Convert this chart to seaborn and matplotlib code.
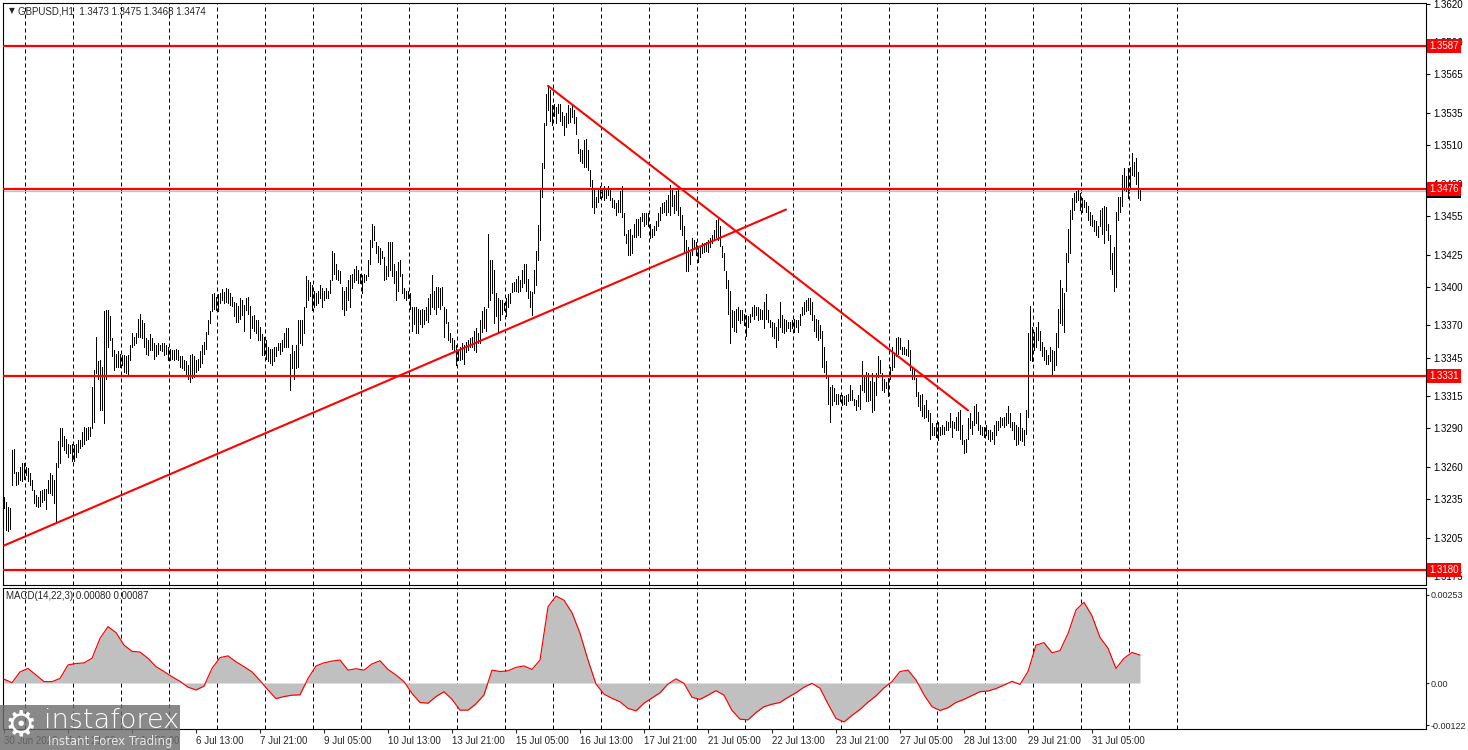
import numpy as np
import pandas as pd
import seaborn as sns
import matplotlib.pyplot as plt
from matplotlib import transforms
from matplotlib.patches import Rectangle


# GBPUSD H1 bars (one value per hourly bar)
bar_high = [
    1.3237, 1.3233, 1.3229, 1.3228, 1.3273, 1.3274, 1.3256, 1.3256, 1.3260, 1.3263,
    1.3263, 1.3260, 1.3259, 1.3255, 1.3250, 1.3242, 1.3238, 1.3237, 1.3241, 1.3242,
    1.3243, 1.3243, 1.3250, 1.3255, 1.3254, 1.3250, 1.3263, 1.3280, 1.3290, 1.3290,
    1.3284, 1.3282, 1.3278, 1.3277, 1.3278, 1.3277, 1.3278, 1.3281, 1.3281, 1.3287,
    1.3291, 1.3290, 1.3291, 1.3291, 1.3322, 1.3335, 1.3361, 1.3342, 1.3343, 1.3338,
    1.3381, 1.3382, 1.3382, 1.3377, 1.3360, 1.3351, 1.3348, 1.3350, 1.3348, 1.3347,
    1.3347, 1.3346, 1.3347, 1.3355, 1.3364, 1.3361, 1.3364, 1.3375, 1.3379, 1.3374,
    1.3372, 1.3360, 1.3359, 1.3363, 1.3360, 1.3356, 1.3355, 1.3356, 1.3355, 1.3356,
    1.3356, 1.3355, 1.3353, 1.3352, 1.3351, 1.3351, 1.3352, 1.3351, 1.3346, 1.3346,
    1.3343, 1.3342, 1.3339, 1.3347, 1.3348, 1.3346, 1.3343, 1.3344, 1.3350, 1.3355,
    1.3357, 1.3365, 1.3374, 1.3381, 1.3394, 1.3395, 1.3392, 1.3394, 1.3395, 1.3398,
    1.3396, 1.3399, 1.3398, 1.3395, 1.3392, 1.3388, 1.3387, 1.3385, 1.3391, 1.3390,
    1.3386, 1.3391, 1.3392, 1.3385, 1.3377, 1.3378, 1.3374, 1.3374, 1.3369, 1.3363,
    1.3361, 1.3359, 1.3353, 1.3352, 1.3352, 1.3353, 1.3353, 1.3356, 1.3356, 1.3359,
    1.3364, 1.3368, 1.3368, 1.3348, 1.3355, 1.3350, 1.3355, 1.3374, 1.3374,
    1.3374, 1.3384, 1.3408, 1.3405, 1.3404, 1.3401, 1.3397, 1.3395, 1.3397, 1.3401,
    1.3399, 1.3397, 1.3399, 1.3397, 1.3405, 1.3428, 1.3426, 1.3418, 1.3413, 1.3412,
    1.3400, 1.3397, 1.3400, 1.3405, 1.3409, 1.3410, 1.3414, 1.3416, 1.3413, 1.3410,
    1.3409, 1.3410, 1.3409, 1.3421, 1.3436, 1.3449, 1.3447, 1.3435, 1.3432, 1.3430,
    1.3428, 1.3423, 1.3416, 1.3435, 1.3435, 1.3435, 1.3418, 1.3412, 1.3419, 1.3421,
    1.3410, 1.3399, 1.3397, 1.3397, 1.3395, 1.3384, 1.3384, 1.3384, 1.3383, 1.3382,
    1.3383, 1.3382, 1.3384, 1.3391, 1.3394, 1.3409, 1.3397, 1.3400, 1.3400, 1.3399,
    1.3400, 1.3384, 1.3383, 1.3373, 1.3364, 1.3360, 1.3359, 1.3355, 1.3351, 1.3353,
    1.3356, 1.3355, 1.3357, 1.3359, 1.3360, 1.3361, 1.3366, 1.3368, 1.3364, 1.3374,
    1.3381, 1.3384, 1.3383, 1.3441, 1.3421, 1.3421, 1.3413, 1.3395, 1.3391, 1.3390,
    1.3390, 1.3387, 1.3391, 1.3394, 1.3395, 1.3403, 1.3404, 1.3406, 1.3408, 1.3405,
    1.3413, 1.3418, 1.3418, 1.3406, 1.3397, 1.3396, 1.3413, 1.3428, 1.3448, 1.3475,
    1.3496, 1.3527, 1.3550, 1.3557, 1.3553, 1.3541, 1.3542, 1.3540, 1.3542, 1.3542,
    1.3536, 1.3533, 1.3535, 1.3541, 1.3539, 1.3541, 1.3537, 1.3532, 1.3515, 1.3507,
    1.3506, 1.3514, 1.3515, 1.3506, 1.3491,
    1.3483, 1.3475, 1.3470, 1.3475, 1.3478, 1.3475, 1.3478, 1.3476, 1.3478, 1.3476,
    1.3469, 1.3467, 1.3465, 1.3467, 1.3474, 1.3478, 1.3457, 1.3441, 1.3444, 1.3445,
    1.3440, 1.3449, 1.3453, 1.3453, 1.3454, 1.3457, 1.3457, 1.3457, 1.3457, 1.3449,
    1.3445, 1.3447, 1.3451, 1.3457, 1.3462, 1.3465, 1.3466, 1.3467, 1.3471, 1.3479,
    1.3475, 1.3471, 1.3474, 1.3478, 1.3462, 1.3456, 1.3447, 1.3436, 1.3431, 1.3427,
    1.3438, 1.3436, 1.3435, 1.3431, 1.3432, 1.3434, 1.3434, 1.3435, 1.3436, 1.3438,
    1.3440, 1.3444, 1.3452, 1.3454, 1.3447, 1.3432, 1.3426, 1.3412, 1.3405, 1.3397,
    1.3382, 1.3381, 1.3383, 1.3384, 1.3382, 1.3382, 1.3379, 1.3378, 1.3377, 1.3379,
    1.3384, 1.3386, 1.3384, 1.3384, 1.3383, 1.3382, 1.3388, 1.3394, 1.3382, 1.3374,
    1.3373, 1.3372, 1.3369, 1.3375, 1.3388, 1.3378, 1.3375, 1.3374, 1.3373, 1.3373,
    1.3374, 1.3375, 1.3374, 1.3374, 1.3379, 1.3384, 1.3388, 1.3390, 1.3391, 1.3391,
    1.3388, 1.3378, 1.3375, 1.3374, 1.3370, 1.3366, 1.3353, 1.3342, 1.3331, 1.3322,
    1.3324, 1.3321, 1.3317, 1.3317, 1.3316, 1.3316, 1.3315, 1.3316, 1.3317, 1.3324,
    1.3320, 1.3313, 1.3312, 1.3316, 1.3324, 1.3342, 1.3330, 1.3334, 1.3333, 1.3327,
    1.3333, 1.3326, 1.3333, 1.3346, 1.3343,
    1.3333, 1.3328, 1.3326, 1.3329, 1.3338, 1.3353, 1.3348, 1.3360, 1.3361, 1.3360,
    1.3353, 1.3353, 1.3352, 1.3359, 1.3351, 1.3338, 1.3335, 1.3329, 1.3318, 1.3316,
    1.3317, 1.3308, 1.3312, 1.3304, 1.3302, 1.3294, 1.3291, 1.3294, 1.3295, 1.3291,
    1.3293, 1.3291, 1.3296, 1.3295, 1.3302, 1.3296, 1.3295, 1.3299, 1.3303, 1.3304,
    1.3293, 1.3281, 1.3282, 1.3298, 1.3302, 1.3296, 1.3307, 1.3309, 1.3303, 1.3293,
    1.3291, 1.3291, 1.3293, 1.3289, 1.3289, 1.3287, 1.3293, 1.3296, 1.3296, 1.3299,
    1.3298, 1.3299, 1.3302, 1.3307, 1.3302, 1.3295, 1.3295, 1.3293, 1.3291, 1.3302,
    1.3290, 1.3289, 1.3304, 1.3364, 1.3385, 1.3369, 1.3365, 1.3369, 1.3373, 1.3366,
    1.3357, 1.3353, 1.3351, 1.3347, 1.3353, 1.3351, 1.3350, 1.3364, 1.3383, 1.3405,
    1.3399, 1.3395, 1.3426, 1.3445, 1.3460, 1.3469, 1.3473, 1.3474, 1.3475, 1.3473,
    1.3469, 1.3467, 1.3466, 1.3463, 1.3458, 1.3456, 1.3452, 1.3451, 1.3447, 1.3460,
    1.3461, 1.3463, 1.3462, 1.3449, 1.3440, 1.3426, 1.3431, 1.3458, 1.3470, 1.3470,
    1.3487, 1.3492, 1.3486, 1.3492, 1.3493, 1.3504, 1.3497, 1.3500, 1.3489, 1.3475,
]
bar_low = [
    1.3228, 1.3211, 1.3210, 1.3212, 1.3246, 1.3255, 1.3246, 1.3247, 1.3250, 1.3249,
    1.3251, 1.3254, 1.3249, 1.3246, 1.3242, 1.3232, 1.3230, 1.3229, 1.3230, 1.3233,
    1.3234, 1.3227, 1.3240, 1.3240, 1.3238, 1.3232, 1.3218, 1.3260, 1.3263, 1.3276,
    1.3273, 1.3271, 1.3268, 1.3271, 1.3265, 1.3265, 1.3268, 1.3272, 1.3275, 1.3276,
    1.3278, 1.3281, 1.3282, 1.3284, 1.3290, 1.3295, 1.3333, 1.3328, 1.3304, 1.3304,
    1.3294, 1.3328, 1.3353, 1.3359, 1.3346, 1.3335, 1.3338, 1.3338, 1.3338, 1.3339,
    1.3334, 1.3333, 1.3331, 1.3343, 1.3353, 1.3355, 1.3356, 1.3361, 1.3361, 1.3360,
    1.3353, 1.3348, 1.3347, 1.3351, 1.3351, 1.3344, 1.3346, 1.3348, 1.3351, 1.3350,
    1.3347, 1.3348, 1.3343, 1.3343, 1.3344, 1.3343, 1.3344, 1.3343, 1.3338, 1.3337,
    1.3335, 1.3331, 1.3328, 1.3326, 1.3329, 1.3330, 1.3334, 1.3335, 1.3338, 1.3341,
    1.3348, 1.3352, 1.3363, 1.3372, 1.3381, 1.3383, 1.3382, 1.3381, 1.3387, 1.3390,
    1.3387, 1.3388, 1.3387, 1.3386, 1.3385, 1.3377, 1.3373, 1.3373, 1.3375, 1.3378,
    1.3366, 1.3382, 1.3379, 1.3360, 1.3368, 1.3366, 1.3364, 1.3359, 1.3359, 1.3347,
    1.3347, 1.3344, 1.3342, 1.3341, 1.3339, 1.3342, 1.3346, 1.3351, 1.3348, 1.3350,
    1.3353, 1.3353, 1.3353, 1.3320, 1.3337, 1.3328, 1.3337, 1.3338, 1.3356,
    1.3355, 1.3364, 1.3384, 1.3390, 1.3393, 1.3382, 1.3384, 1.3386, 1.3387, 1.3391,
    1.3384, 1.3390, 1.3391, 1.3391, 1.3395, 1.3405, 1.3410, 1.3406, 1.3405, 1.3403,
    1.3383, 1.3378, 1.3382, 1.3390, 1.3384, 1.3399, 1.3404, 1.3405, 1.3403, 1.3403,
    1.3395, 1.3404, 1.3405, 1.3408, 1.3418, 1.3431, 1.3436, 1.3426, 1.3419, 1.3418,
    1.3422, 1.3405, 1.3406, 1.3408, 1.3413, 1.3408, 1.3403, 1.3390, 1.3397, 1.3408,
    1.3395, 1.3391, 1.3390, 1.3391, 1.3383, 1.3366, 1.3371, 1.3364, 1.3364, 1.3371,
    1.3369, 1.3371, 1.3374, 1.3373, 1.3379, 1.3384, 1.3383, 1.3379, 1.3384, 1.3383,
    1.3386, 1.3361, 1.3372, 1.3359, 1.3357, 1.3352, 1.3351, 1.3339, 1.3343, 1.3343,
    1.3344, 1.3340, 1.3349, 1.3351, 1.3353, 1.3353, 1.3351, 1.3349, 1.3356, 1.3356,
    1.3365, 1.3368, 1.3366, 1.3384, 1.3390, 1.3395, 1.3372, 1.3377, 1.3366, 1.3374,
    1.3379, 1.3382, 1.3377, 1.3384, 1.3387, 1.3396, 1.3397, 1.3397, 1.3396, 1.3397,
    1.3400, 1.3403, 1.3397, 1.3391, 1.3384, 1.3378, 1.3395, 1.3401, 1.3421, 1.3436,
    1.3470, 1.3492, 1.3526, 1.3537, 1.3529, 1.3526, 1.3533, 1.3527, 1.3535, 1.3529,
    1.3526, 1.3518, 1.3524, 1.3527, 1.3528, 1.3532, 1.3527, 1.3519, 1.3504, 1.3498,
    1.3496, 1.3493, 1.3493, 1.3491, 1.3478,
    1.3462, 1.3457, 1.3462, 1.3466, 1.3469, 1.3470, 1.3467, 1.3469, 1.3471, 1.3467,
    1.3462, 1.3461, 1.3456, 1.3458, 1.3458, 1.3454, 1.3440, 1.3434, 1.3425, 1.3425,
    1.3426, 1.3439, 1.3439, 1.3440, 1.3439, 1.3451, 1.3447, 1.3449, 1.3447, 1.3438,
    1.3439, 1.3440, 1.3444, 1.3447, 1.3452, 1.3457, 1.3458, 1.3456, 1.3458, 1.3456,
    1.3463, 1.3457, 1.3460, 1.3456, 1.3445, 1.3440, 1.3426, 1.3412, 1.3412, 1.3418,
    1.3425, 1.3430, 1.3425, 1.3419, 1.3423, 1.3426, 1.3427, 1.3428, 1.3427, 1.3431,
    1.3434, 1.3436, 1.3439, 1.3436, 1.3432, 1.3423, 1.3413, 1.3399, 1.3379, 1.3356,
    1.3369, 1.3366, 1.3365, 1.3374, 1.3372, 1.3374, 1.3370, 1.3362, 1.3369, 1.3373,
    1.3377, 1.3375, 1.3378, 1.3374, 1.3375, 1.3375, 1.3368, 1.3375, 1.3373, 1.3369,
    1.3362, 1.3360, 1.3353, 1.3359, 1.3369, 1.3365, 1.3364, 1.3366, 1.3368, 1.3366,
    1.3368, 1.3365, 1.3369, 1.3365, 1.3370, 1.3378, 1.3379, 1.3381, 1.3382, 1.3379,
    1.3374, 1.3366, 1.3361, 1.3359, 1.3360, 1.3338, 1.3334, 1.3329, 1.3309, 1.3295,
    1.3308, 1.3311, 1.3309, 1.3309, 1.3311, 1.3308, 1.3309, 1.3308, 1.3311, 1.3312,
    1.3312, 1.3308, 1.3304, 1.3307, 1.3305, 1.3320, 1.3318, 1.3311, 1.3311, 1.3312,
    1.3303, 1.3304, 1.3316, 1.3330, 1.3333,
    1.3320, 1.3318, 1.3321, 1.3315, 1.3328, 1.3335, 1.3338, 1.3346, 1.3348, 1.3352,
    1.3348, 1.3348, 1.3347, 1.3346, 1.3335, 1.3328, 1.3328, 1.3315, 1.3307, 1.3304,
    1.3300, 1.3298, 1.3299, 1.3296, 1.3282, 1.3285, 1.3285, 1.3283, 1.3281, 1.3285,
    1.3286, 1.3286, 1.3289, 1.3289, 1.3291, 1.3283, 1.3290, 1.3289, 1.3289, 1.3282,
    1.3278, 1.3271, 1.3272, 1.3282, 1.3290, 1.3286, 1.3293, 1.3294, 1.3289, 1.3286,
    1.3285, 1.3283, 1.3285, 1.3282, 1.3280, 1.3282, 1.3278, 1.3285, 1.3289, 1.3291,
    1.3293, 1.3291, 1.3293, 1.3294, 1.3291, 1.3289, 1.3282, 1.3277, 1.3278, 1.3281,
    1.3280, 1.3277, 1.3286, 1.3299, 1.3343, 1.3342, 1.3351, 1.3353, 1.3359, 1.3351,
    1.3346, 1.3343, 1.3340, 1.3340, 1.3342, 1.3331, 1.3335, 1.3339, 1.3353, 1.3372,
    1.3370, 1.3365, 1.3397, 1.3419, 1.3426, 1.3453, 1.3460, 1.3466, 1.3467, 1.3460,
    1.3458, 1.3462, 1.3458, 1.3452, 1.3448, 1.3447, 1.3443, 1.3440, 1.3439, 1.3447,
    1.3441, 1.3434, 1.3444, 1.3436, 1.3414, 1.3410, 1.3397, 1.3400, 1.3452, 1.3458,
    1.3463, 1.3475, 1.3474, 1.3469, 1.3476, 1.3487, 1.3486, 1.3480, 1.3469, 1.3467,
]

# MACD(14,22,3) main value, one reading every 4th bar
macd_main = [
    0.00011, 0.00001, 0.00032, 0.00042, 0.00023, 0.00004, 0.00004, 0.00013, 0.00052, 0.00056,
    0.00058, 0.00071, 0.00128, 0.00162, 0.00145, 0.00109, 0.00091, 0.00089, 0.00071, 0.00047,
    0.00033, 0.00018, 0.00005, -0.00012, -0.00020, -0.00009, 0.00042, 0.00073, 0.00078, 0.00061,
    0.00047, 0.00032, 0.00007, -0.00020, -0.00045, -0.00039, -0.00035, -0.00034, 0.00013, 0.00049,
    0.00058, 0.00063, 0.00066, 0.00037, 0.00041, 0.00037, 0.00055, 0.00064, 0.00039, 0.00023,
    0.00004, -0.00030, -0.00056, -0.00058, -0.00039, -0.00025, -0.00047, -0.00078, -0.00078, -0.00060,
    -0.00034, 0.00037, 0.00033, 0.00035, 0.00045, 0.00049, 0.00039, 0.00066, 0.00219, 0.00250,
    0.00238, 0.00202, 0.00143, 0.00066, -0.00003,
    -0.00032, -0.00044, -0.00054, -0.00073, -0.00080, -0.00058, -0.00043, -0.00028, -0.00003, 0.00012,
    -0.00001, -0.00041, -0.00047, -0.00035, -0.00022, -0.00035, -0.00079, -0.00104, -0.00106, -0.00085,
    -0.00068, -0.00061, -0.00056, -0.00041, -0.00028, -0.00012, -0.00001, -0.00015, -0.00060, -0.00102,
    -0.00112, -0.00093, -0.00076, -0.00055, -0.00037, -0.00014, 0.00004, 0.00033, 0.00037, 0.00009,
    -0.00034, -0.00068, -0.00079, -0.00071, -0.00056, -0.00047, -0.00036, -0.00025, -0.00023, -0.00016,
    -0.00006, 0.00005, -0.00004, 0.00033, 0.00109, 0.00116, 0.00087, 0.00093, 0.00142, 0.00210,
    0.00232, 0.00193, 0.00131, 0.00100, 0.00042, 0.00071, 0.00088, 0.00080,
]

# horizontal levels drawn on the chart
levels = [1.3587, 1.3476, 1.3331, 1.3180]
bid_price = 1.3474

# trend lines: (bar index, price) anchors
trend_up_bar = [0, 391]
trend_up_price = [1.3199, 1.3460]
trend_down_bar = [272, 482]
trend_down_price = [1.3556, 1.3304]

price_ticks = [1.3620, 1.3590, 1.3565, 1.3535, 1.3510, 1.3480, 1.3455, 1.3425, 1.3400,
               1.3370, 1.3345, 1.3315, 1.3290, 1.3260, 1.3235, 1.3205, 1.3175]
macd_ticks = [0.00253, 0.0, -0.00122]
macd_tick_labels = ['0.00253', '0.00', '-0.00122']

time_labels = ['30 Jun 2026', '1 Jul 21:00', '3 Jul 05:00', '6 Jul 13:00', '7 Jul 21:00',
               '9 Jul 05:00', '10 Jul 13:00', '13 Jul 21:00', '15 Jul 05:00', '16 Jul 13:00',
               '17 Jul 21:00', '21 Jul 05:00', '22 Jul 13:00', '23 Jul 21:00', '27 Jul 05:00',
               '28 Jul 13:00', '29 Jul 21:00', '31 Jul 05:00']

W, H = 1468, 750
FS = 7


def px_box(left, top, right, bottom):
    return [left / W, 1 - bottom / H, (right - left) / W, (bottom - top) / H]


def side_label(ax, y, text, fc, z):
    tr = transforms.blended_transform_factory(ax.transAxes, ax.transData)
    ax.text(1.0022, y, text, transform=tr, ha='left', va='center', color='white',
            fontsize=FS, clip_on=False, zorder=z,
            bbox=dict(boxstyle='square,pad=0.2', fc=fc, ec='none'))


def main():
    sns.set_style('white')
    plt.rcParams['font.family'] = ['Liberation Sans', 'DejaVu Sans']

    df = pd.DataFrame({'bar': np.arange(len(bar_high)), 'high': bar_high, 'low': bar_low})
    macd = pd.DataFrame({'bar': np.arange(0, 4 * len(macd_main), 4), 'value': macd_main})

    fig = plt.figure(figsize=(W / 100, H / 100), dpi=100)
    ax = fig.add_axes(px_box(3, 3, 1426, 585))
    ax2 = fig.add_axes(px_box(3, 588, 1426, 729))

    xlim = (-0.5, 711)
    grid_bars = 10.5 + 24 * np.arange(25)
    for a in (ax, ax2):
        a.set_xlim(*xlim)
        for g in grid_bars:
            a.axvline(g, color='black', lw=0.72, ls=(0, (4, 3)), zorder=1)
        for s in a.spines.values():
            s.set_color('black')
            s.set_linewidth(0.8)

    # price panel: one thin vertical stroke per hourly bar
    ax.vlines(df['bar'], df['low'], df['high'], color='black', lw=0.5,
              antialiased=False, zorder=3)
    ax.axhline(bid_price, color='#c0c0c0', lw=0.9, zorder=2)
    for lv in levels:
        ax.axhline(lv, color='red', lw=1.6, zorder=4)
    sns.lineplot(x=trend_up_bar, y=trend_up_price, color='red', lw=1.5, ax=ax, zorder=4)
    sns.lineplot(x=trend_down_bar, y=trend_down_price, color='red', lw=1.5, ax=ax, zorder=4)

    ax.set_ylim(1.316835, 1.36204)
    ax.set_xticks([])
    ax.yaxis.tick_right()
    ax.set_yticks(price_ticks)
    ax.set_yticklabels([f'{t:.4f}' for t in price_ticks])
    ax.tick_params(axis='y', right=True, length=3, width=0.8, pad=2, labelsize=FS,
                   colors='black')
    ax.set_xlabel('')
    ax.set_ylabel('')

    side_label(ax, bid_price, f'{bid_price:.4f}', 'black', 5)
    for lv in levels:
        side_label(ax, lv, f'{lv:.4f}', 'red', 6)

    ax.text(6 / 1423, 1 - 8 / 582, '\u25bc', transform=ax.transAxes, fontsize=5.5,
            va='center', ha='left', family=['DejaVu Sans'])
    ax.text(15 / 1423, 1 - 8 / 582, 'GBPUSD,H1  1.3473 1.3475 1.3468 1.3474',
            transform=ax.transAxes, fontsize=FS, va='center', ha='left')

    # MACD panel
    ax2.fill_between(macd['bar'], 0, macd['value'], color='#c0c0c0', lw=0, zorder=2)
    sns.lineplot(data=macd, x='bar', y='value', color='red', lw=0.85, ax=ax2, zorder=3)
    ax2.set_ylim(-0.001322, 0.002731)
    ax2.yaxis.tick_right()
    ax2.set_yticks(macd_ticks)
    ax2.set_yticklabels(macd_tick_labels)
    ax2.set_xticks(np.arange(0, 32 * len(time_labels), 32))
    ax2.set_xticklabels(time_labels, ha='left')
    ax2.tick_params(axis='y', right=True, length=2, width=0.8, pad=1.5, labelsize=6.5)
    ax2.tick_params(axis='x', bottom=True, length=3, width=0.8, pad=2, labelsize=FS)
    ax2.set_xlabel('')
    ax2.set_ylabel('')
    ax2.text(3 / 1423, 1 - 8 / 141, 'MACD(14,22,3) 0.00080 0.00087',
             transform=ax2.transAxes, fontsize=FS, va='center', ha='left')

    # watermark in the lower left corner
    fig.add_artist(Rectangle((0, 0), 180 / W, 45 / H, transform=fig.transFigure,
                             fc='#6f6f6f', ec='none', alpha=0.82, zorder=10))
    fig.text(5 / W, 1 - 725 / H, '\u2699', fontsize=26, color='white', va='center',
             ha='left', family=['DejaVu Sans'], zorder=11)
    fig.text(44 / W, 1 - 720 / H, 'instaforex', fontsize=19.5, color='white', va='center',
             ha='left', family=['DejaVu Sans'], fontweight='light', zorder=11)
    fig.text(48 / W, 1 - 741 / H, 'Instant Forex Trading', fontsize=8.5, color='#e8e8e8',
             va='center', ha='left', family=['DejaVu Sans'], zorder=11)

    fig.savefig('out.png', dpi=100)


if __name__ == '__main__':
    main()
